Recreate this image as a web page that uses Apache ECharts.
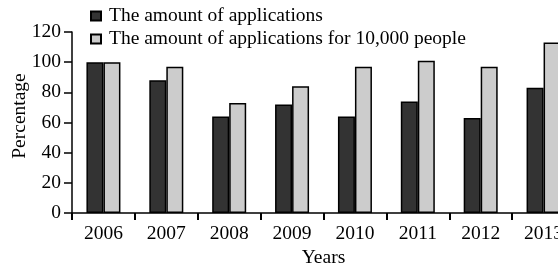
<!DOCTYPE html>
<html><head><meta charset="utf-8">
<script src="https://cdn.jsdelivr.net/npm/echarts@6/dist/echarts.min.js"></script>
<style>html,body{margin:0;padding:0;background:#fff}#c{width:558px;height:268px}</style>
</head><body><div id="c"></div>
<script>
const years = ['2006','2007','2008','2009','2010','2011','2012','2013'];
const applications = [100, 88, 64, 72, 64, 74, 63, 83];
const applicationsPer10k = [100, 97, 73, 84, 97, 101, 97, 113];
const seriesNames = ['The amount of applications', 'The amount of applications for 10,000 people'];
const yTicks = [0, 20, 40, 60, 80, 100, 120];

const font = 'Liberation Serif';
const fs = 19.5;
const chart = echarts.init(document.getElementById('c'), null, {renderer: 'canvas'});
chart.setOption({
  animation: false,
  backgroundColor: '#fff',
  grid: {left: 72, width: 503, top: 32, height: 181, containLabel: false, outerBoundsMode: 'none'},
  legend: {
    orient: 'vertical', left: 85, top: 1, itemWidth: 10, itemHeight: 9, itemGap: 3,
    icon: 'rect',
    textStyle: {fontFamily: font, fontSize: fs, color: '#000', padding: [0, 0, 0, 3]},
    data: seriesNames
  },
  xAxis: {
    type: 'category', data: years,
    name: 'Years', nameLocation: 'middle', nameGap: 35, nameMoveOverlap: false,
    nameTextStyle: {fontFamily: font, fontSize: fs, color: '#000'},
    axisLine: {lineStyle: {color: '#000', width: 1.5}},
    axisTick: {show: true, inside: false, length: 7, lineStyle: {color: '#000', width: 2}},
    axisLabel: {fontFamily: font, fontSize: fs, color: '#000', margin: 11}
  },
  yAxis: {
    type: 'value', min: yTicks[0], max: yTicks[yTicks.length - 1], interval: 20,
    name: 'Percentage', nameLocation: 'middle', nameGap: 42, nameMoveOverlap: false,
    nameTextStyle: {fontFamily: font, fontSize: fs, color: '#000', padding: [0, 0, 0, 13]},
    splitLine: {show: false},
    axisLine: {show: true, lineStyle: {color: '#000', width: 1.5}},
    axisTick: {show: true, inside: false, length: 8, lineStyle: {color: '#000', width: 1.5}},
    axisLabel: {fontFamily: font, fontSize: fs, color: '#000', margin: 11}
  },
  series: [
    {name: seriesNames[0], type: 'bar', data: applications, barWidth: 17, barGap: '0%',
     itemStyle: {color: '#333333', borderColor: '#000', borderWidth: 1.5}},
    {name: seriesNames[1], type: 'bar', data: applicationsPer10k, barWidth: 17,
     itemStyle: {color: '#cccccc', borderColor: '#000', borderWidth: 1.5}}
  ]
});
</script></body></html>
